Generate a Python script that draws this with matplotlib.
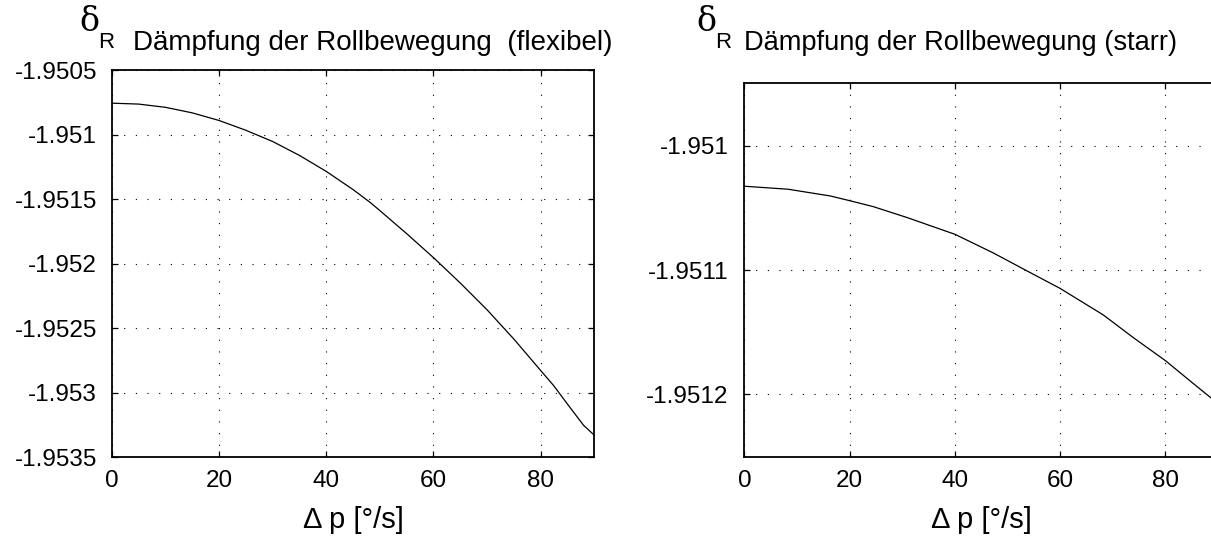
import matplotlib
matplotlib.use("Agg")
import matplotlib.pyplot as plt
import numpy as np

# Roll-damping coefficient vs. roll-rate increment
dp_flex = [0, 5, 10, 15, 20, 25, 30, 35, 40, 45, 48.2, 50, 55, 60, 65, 70,
           75, 80, 82.4, 85, 88, 90]
delta_flex = [-1.950755, -1.950762, -1.950787, -1.950830, -1.950889, -1.950965,
              -1.951052, -1.951160, -1.951284, -1.951425, -1.951525, -1.951588,
              -1.951767, -1.951953, -1.952150, -1.952358, -1.952585, -1.952829,
              -1.952945, -1.953090, -1.953254, -1.953331]

dp_rigid = [0, 8.3, 16.3, 20, 24.5, 30.8, 40, 47.3, 53.6, 60, 68.2,
            73.9, 80, 85.3, 88.6, 90]
delta_rigid = [-1.9510327, -1.9510351, -1.9510405, -1.9510443, -1.9510491,
               -1.9510577, -1.9510713, -1.9510863, -1.9511005, -1.9511148,
               -1.9511361, -1.9511543, -1.9511728, -1.9511912, -1.9512025,
               -1.9512070]

x_ticks = [0, 20, 40, 60, 80]
y_ticks_flex = [-1.9535, -1.953, -1.9525, -1.952, -1.9515, -1.951, -1.9505]
y_labels_flex = ["-1.9535", "-1.953", "-1.9525", "-1.952", "-1.9515", "-1.951", "-1.9505"]
y_ticks_rigid = [-1.9512, -1.9511, -1.951]
y_labels_rigid = ["-1.9512", "-1.9511", "-1.951"]

title_flex = "Dämpfung der Rollbewegung  (flexibel)"
title_rigid = "Dämpfung der Rollbewegung (starr)"
xlabel = "Δ p [°/s]"

SANS = "Liberation Sans"
plt.rcParams["font.family"] = [SANS, "DejaVu Sans"]

W, H = 1211, 540
fig = plt.figure(figsize=(W / 100, H / 100), dpi=100)

def px_axes(x0, x1, ytop, ybot):
    return fig.add_axes([x0 / W, 1 - ybot / H, (x1 - x0) / W, (ybot - ytop) / H])

ax1 = px_axes(111.7, 594.3, 70.3, 457.0)
ax2 = px_axes(744.4, 1218.0, 83.3, 456.7)

def style(ax, yt, yl, ylim, ypad):
    ax.set_xlim(0, 90)
    ax.set_ylim(*ylim)
    ax.set_xticks(x_ticks)
    ax.set_xticklabels([str(v) for v in x_ticks])
    ax.set_yticks(yt)
    ax.set_yticklabels(yl)
    ax.tick_params(direction="in", length=4, width=0.9, top=True, right=True,
                   labelsize=17.5, colors="black")
    ax.tick_params(axis="y", pad=ypad)
    ax.tick_params(axis="x", pad=9.5)
    for s in ax.spines.values():
        s.set_linewidth(1.3)
    ax.grid(True, color="black", linewidth=0.8, linestyle=(0, (1, 9.5)))
    ax.set_xlabel(xlabel, fontsize=21, labelpad=10)

style(ax1, y_ticks_flex, y_labels_flex, (-1.9535, -1.9505), 10.5)
style(ax2, y_ticks_rigid, y_labels_rigid, (-1.95125, -1.95095), 11.5)

ax1.plot(dp_flex, delta_flex, color="black", linewidth=0.9)
ax2.plot(dp_rigid, delta_rigid, color="black", linewidth=0.9)

# headings: symbol with subscript and title text
def heading(xd, title_x, title, size):
    fig.text(xd / W, 1 - 31 / H, "δ", fontsize=24, family="DejaVu Serif",
             ha="left", va="baseline")
    fig.text((xd + 19) / W, 1 - 48 / H, "R", fontsize=16, ha="left", va="baseline")
    fig.text(title_x / W, 1 - 50 / H, title, fontsize=size, ha="left", va="baseline")

heading(79, 133, title_flex, 20)
heading(696, 744, title_rigid, 19.6)

fig.savefig("out.png", dpi=100)
